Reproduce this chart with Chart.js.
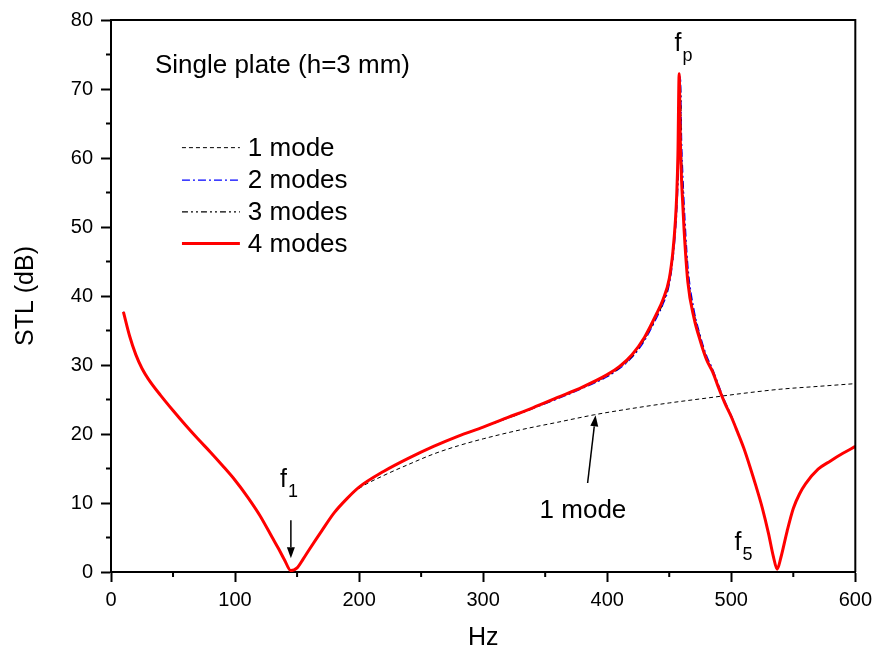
<!DOCTYPE html>
<html>
<head>
<meta charset="utf-8">
<title>STL single plate</title>
<script src="https://cdn.jsdelivr.net/npm/chart.js@4.4.1/dist/chart.umd.min.js"></script>
<style>
  body { margin: 0; background: #fff; }
</style>
</head>
<body>
<canvas id="stlChart" width="878" height="658"></canvas>
<script>
// frequencies (Hz) for the 2, 3 and 4 mode curves
const freq = [10, 15, 20, 25, 30, 40, 50, 60, 70, 80,
    90, 100, 110, 120, 130, 135, 140, 145, 150, 155,
    160, 170, 180, 190, 200, 220, 240, 260, 280, 300,
    320, 340, 360, 380, 400, 410, 420, 430, 440, 445,
    450, 453, 455, 456, 457, 458, 459, 460, 461, 462,
    465, 470, 475, 480, 485, 490, 495, 500, 505, 510,
    515, 520, 525, 530, 534, 537, 540, 545, 550, 555,
    560, 570, 580, 590, 600];

// STL (dB), 4 modes
const stl4 = [37.7, 34.2, 31.5, 29.5, 28.0, 25.6, 23.4, 21.3, 19.3, 17.4,
    15.4, 13.3, 10.9, 8.2, 5.0, 3.4, 1.7, 0.2, 0.6, 1.9,
    3.3, 6.0, 8.6, 10.6, 12.3, 14.6, 16.5, 18.2, 19.7, 21.0,
    22.4, 23.8, 25.3, 26.8, 28.6, 29.8, 31.5, 34.0, 37.5, 39.5,
    42.5, 46.5, 51.0, 54.5, 60.5, 72.2, 62.0, 56.5, 53.0, 49.5,
    42.0, 36.8, 33.5, 30.8, 29.0, 26.6, 24.4, 22.5, 20.3, 18.0,
    15.3, 12.4, 9.3, 5.6, 2.2, 0.4, 2.1, 5.9, 9.2, 11.3,
    12.8, 14.9, 16.1, 17.2, 18.2];

// STL (dB), 3 modes
const stl3 = [37.7, 34.2, 31.5, 29.5, 28.0, 25.6, 23.4, 21.3, 19.3, 17.4,
    15.4, 13.3, 10.9, 8.2, 5.0, 3.4, 1.7, 0.2, 0.6, 1.9,
    3.3, 6.0, 8.6, 10.6, 12.3, 14.6, 16.5, 18.2, 19.7, 21.0,
    22.3, 23.7, 25.2, 26.7, 28.4, 29.6, 31.2, 33.7, 37.1, 39.0,
    42.0, 45.8, 50.0, 53.0, 57.5, 66.0, 70.5, 60.0, 55.5, 51.5,
    43.3, 37.5, 34.0, 31.1, 29.2, 26.8, 24.5, 22.6, 20.3, 18.0,
    15.3, 12.4, 9.3, 5.6, 2.2, 0.4, 2.1, 5.9, 9.2, 11.3,
    12.8, 14.9, 16.1, 17.2, 18.2];

// STL (dB), 2 modes
const stl2 = [37.7, 34.2, 31.5, 29.5, 28.0, 25.6, 23.4, 21.3, 19.3, 17.4,
    15.4, 13.3, 10.9, 8.2, 5.0, 3.4, 1.7, 0.2, 0.6, 1.9,
    3.3, 6.0, 8.6, 10.6, 12.3, 14.6, 16.5, 18.2, 19.7, 21.0,
    22.3, 23.7, 25.1, 26.6, 28.3, 29.5, 31.1, 33.5, 36.9, 38.8,
    41.6, 45.3, 49.2, 52.0, 56.0, 63.0, 71.8, 62.5, 57.5, 53.5,
    44.5, 38.0, 34.3, 31.4, 29.4, 27.0, 24.7, 22.7, 20.4, 18.0,
    15.3, 12.4, 9.3, 5.6, 2.2, 0.4, 2.1, 5.9, 9.2, 11.3,
    12.8, 14.9, 16.1, 17.2, 18.2];

// 1 mode curve has its own frequency list
const freq1 = [10, 15, 20, 25, 30, 40, 50, 60, 70, 80,
    90, 100, 110, 120, 130, 135, 140, 145, 150, 155,
    160, 170, 180, 190, 200, 220, 240, 260, 280, 300,
    330, 360, 390, 420, 450, 480, 510, 540, 570, 600];
const stl1 = [37.7, 34.2, 31.5, 29.5, 28.0, 25.6, 23.4, 21.3, 19.3, 17.4,
    15.4, 13.3, 10.9, 8.2, 5.0, 3.4, 1.7, 0.2, 0.6, 1.9,
    3.3, 6.0, 8.6, 10.5, 12.1, 14.0, 15.6, 17.1, 18.3, 19.3,
    20.6, 21.7, 22.8, 23.7, 24.5, 25.2, 25.9, 26.5, 26.9, 27.3];

const seriesNames = ['1 mode', '2 modes', '3 modes', '4 modes'];
const xTicks = [0, 100, 200, 300, 400, 500, 600];
const yTicks = [0, 10, 20, 30, 40, 50, 60, 70, 80];

const FONT = '"Liberation Sans", Arial, sans-serif';

function toPoints(xs, ys) {
    return xs.map((f, i) => ({ x: f, y: ys[i] }));
}

function arrow(ctx, x1, y1, x2, y2) {
    const ang = Math.atan2(y2 - y1, x2 - x1);
    const len = 11, half = 4;
    ctx.beginPath();
    ctx.moveTo(x1, y1);
    ctx.lineTo(x2 - Math.cos(ang) * len, y2 - Math.sin(ang) * len);
    ctx.stroke();
    ctx.beginPath();
    ctx.moveTo(x2, y2);
    ctx.lineTo(x2 - Math.cos(ang) * len - Math.sin(ang) * half, y2 - Math.sin(ang) * len + Math.cos(ang) * half);
    ctx.lineTo(x2 - Math.cos(ang) * len + Math.sin(ang) * half, y2 - Math.sin(ang) * len - Math.cos(ang) * half);
    ctx.closePath();
    ctx.fill();
}

function subLabel(ctx, main, sub, x, y) {
    ctx.textAlign = 'left';
    ctx.textBaseline = 'alphabetic';
    ctx.font = '25px ' + FONT;
    ctx.fillText(main, x, y);
    const w = ctx.measureText(main).width;
    ctx.font = '18px ' + FONT;
    ctx.fillText(sub, x + w + 1, y + 10);
}

const decorations = {
    id: 'decorations',
    afterDraw(chart) {
        const { ctx, chartArea: area, scales: { x, y } } = chart;
        ctx.save();
        ctx.strokeStyle = '#000';
        ctx.fillStyle = '#000';
        ctx.lineWidth = 2;

        // top and right frame
        ctx.beginPath();
        ctx.moveTo(area.left, area.top);
        ctx.lineTo(area.right, area.top);
        ctx.lineTo(area.right, area.bottom);
        ctx.stroke();

        // minor ticks
        ctx.beginPath();
        for (let v = 50; v < 600; v += 100) {
            const px = x.getPixelForValue(v);
            ctx.moveTo(px, area.bottom);
            ctx.lineTo(px, area.bottom + 5);
        }
        for (let v = 5; v < 80; v += 10) {
            const py = y.getPixelForValue(v);
            ctx.moveTo(area.left, py);
            ctx.lineTo(area.left - 5, py);
        }
        ctx.stroke();

        // heading
        ctx.font = '26px ' + FONT;
        ctx.textAlign = 'left';
        ctx.textBaseline = 'middle';
        ctx.fillText('Single plate (h=3 mm)', x.getPixelForValue(35.4), y.getPixelForValue(73.3));

        // legend inside the plot
        const rowY = [61.5, 56.8, 52.2, 47.6];
        chart.data.datasets.forEach((ds, i) => {
            const py = y.getPixelForValue(rowY[i]);
            ctx.save();
            ctx.strokeStyle = ds.borderColor;
            ctx.lineWidth = ds.borderWidth;
            ctx.setLineDash(ds.borderDash || []);
            ctx.beginPath();
            ctx.moveTo(x.getPixelForValue(57.2), py);
            ctx.lineTo(x.getPixelForValue(103.9), py);
            ctx.stroke();
            ctx.restore();
            ctx.font = '26px ' + FONT;
            ctx.textBaseline = 'middle';
            ctx.fillText(ds.label, x.getPixelForValue(110.3), py + 1);
        });

        // resonance labels
        subLabel(ctx, 'f', 'p', x.getPixelForValue(454.2), y.getPixelForValue(75.5));
        subLabel(ctx, 'f', '1', x.getPixelForValue(136.3), y.getPixelForValue(12.3));
        subLabel(ctx, 'f', '5', x.getPixelForValue(502.6), y.getPixelForValue(3.2));

        // arrows
        ctx.lineWidth = 1.5;
        arrow(ctx, x.getPixelForValue(145), y.getPixelForValue(7.5),
            x.getPixelForValue(145), y.getPixelForValue(2.0));
        arrow(ctx, x.getPixelForValue(384.2), y.getPixelForValue(12.9),
            x.getPixelForValue(390.6), y.getPixelForValue(22.7));

        ctx.font = '26px ' + FONT;
        ctx.textAlign = 'left';
        ctx.textBaseline = 'alphabetic';
        ctx.fillText('1 mode', x.getPixelForValue(345.5), y.getPixelForValue(7.8));

        ctx.restore();
    }
};

const ctx = document.getElementById('stlChart').getContext('2d');
new Chart(ctx, {
    type: 'line',
    data: {
        datasets: [{
            label: seriesNames[0],
            data: toPoints(freq1, stl1),
            borderColor: '#000',
            borderWidth: 1,
            borderDash: [4, 3],
            cubicInterpolationMode: 'monotone',
            order: 3
        }, {
            label: seriesNames[1],
            data: toPoints(freq, stl2),
            borderColor: '#0000ff',
            borderWidth: 1.3,
            borderDash: [8, 3, 2, 3],
            cubicInterpolationMode: 'monotone',
            order: 2
        }, {
            label: seriesNames[2],
            data: toPoints(freq, stl3),
            borderColor: '#000',
            borderWidth: 1.2,
            borderDash: [6, 3, 2, 3, 2, 3],
            cubicInterpolationMode: 'monotone',
            order: 1
        }, {
            label: seriesNames[3],
            data: toPoints(freq, stl4),
            borderColor: '#ff0000',
            borderWidth: 3,
            cubicInterpolationMode: 'monotone',
            order: 0
        }]
    },
    options: {
        responsive: false,
        animation: false,
        elements: {
            point: { radius: 0 },
            line: { fill: false }
        },
        layout: {
            padding: { top: 19, right: 22, left: 0, bottom: 0 }
        },
        plugins: {
            legend: { display: false },
            tooltip: { enabled: false }
        },
        scales: {
            x: {
                type: 'linear',
                min: 0,
                max: 600,
                afterFit: (scale) => { scale.height = 86; },
                afterBuildTicks: (scale) => { scale.ticks = xTicks.map(v => ({ value: v })); },
                ticks: {
                    color: '#000',
                    padding: 6,
                    font: { size: 20, family: FONT }
                },
                grid: {
                    drawOnChartArea: false,
                    tickLength: 10,
                    tickWidth: 2,
                    tickColor: '#000'
                },
                border: { display: true, color: '#000', width: 2 },
                title: {
                    display: true,
                    text: 'Hz',
                    color: '#000',
                    font: { size: 25, family: FONT },
                    padding: { top: 0, bottom: 5 }
                }
            },
            y: {
                min: 0,
                max: 80,
                afterFit: (scale) => { scale.width = 111; },
                afterBuildTicks: (scale) => { scale.ticks = yTicks.map(v => ({ value: v })); },
                ticks: {
                    color: '#000',
                    padding: 8,
                    font: { size: 20, family: FONT }
                },
                grid: {
                    drawOnChartArea: false,
                    tickLength: 10,
                    tickWidth: 2,
                    tickColor: '#000'
                },
                border: { display: true, color: '#000', width: 2 },
                title: {
                    display: true,
                    text: 'STL (dB)',
                    color: '#000',
                    font: { size: 25, family: FONT },
                    padding: { top: 11, bottom: 0 }
                }
            }
        }
    },
    plugins: [decorations]
});
</script>
</body>
</html>
